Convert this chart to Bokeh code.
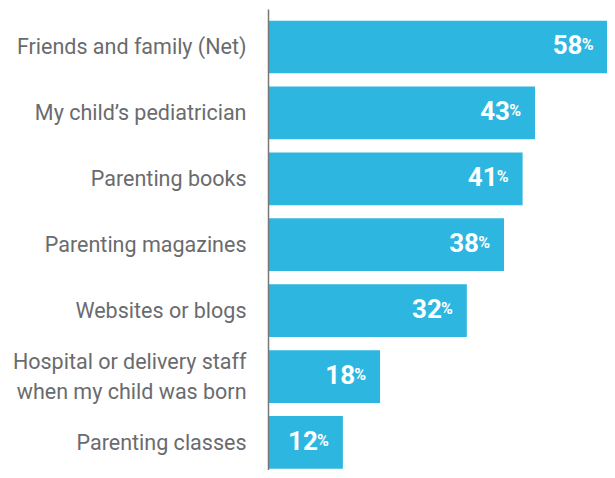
from bokeh.plotting import figure
from bokeh.models import Range1d, ColumnDataSource, FixedTicker
from bokeh.core.properties import value
from bokeh.embed import file_html
from bokeh.resources import INLINE

categories = [
    "Friends and family (Net)",
    "My child\u2019s pediatrician",
    "Parenting books",
    "Parenting magazines",
    "Websites or blogs",
    "Hospital or delivery staff\nwhen my child was born",
    "Parenting classes",
]
values = [58, 43, 41, 38, 32, 18, 12]

n = len(categories)
ypos = [n - 1 - i for i in range(n)]
X_END = 54.7
label_x = [min(v, X_END) for v in values]
num_text = [str(v) for v in values]
pct_text = ["%"] * n

src = ColumnDataSource(dict(y=ypos, v=values, lx=label_x, num=num_text, pct=pct_text))

p = figure(width=607, height=470, output_backend="svg", toolbar_location=None,
           x_range=Range1d(0, X_END), y_range=Range1d(-0.426, 6.569),
           min_border_left=268, min_border_right=0, min_border_top=9, min_border_bottom=0)

p.hbar(y="y", right="v", left=0, height=0.80, source=src, color="#2db6e0", line_color=None)

p.text(x="lx", y="y", text="pct", source=src, x_offset=-14, y_offset=-2,
       text_align="right", text_baseline="alphabetic", text_color="white",
       text_font=value("Roboto"), text_font_style="bold", text_font_size="16px")
p.text(x="lx", y="y", text="num", source=src, x_offset=-25, y_offset=-2,
       text_align="right", text_baseline="alphabetic", text_color="white",
       text_font=value("Roboto"), text_font_style="bold", text_font_size="26px")

p.xaxis.visible = False
p.xgrid.visible = False
p.ygrid.visible = False
p.outline_line_color = None

ax = p.yaxis[0]
ax.ticker = FixedTicker(ticks=ypos)
ax.major_label_overrides = {y: c for y, c in zip(ypos, categories)}
ax.major_tick_line_color = None
ax.minor_tick_line_color = None
ax.major_label_standoff = 16
ax.major_label_text_font = "Roboto"
ax.major_label_text_font_size = "21.5px"
ax.major_label_text_color = "#6a6b6e"
ax.axis_line_color = "#777777"
ax.axis_line_width = 1.5

open("out.html", "w").write(file_html(p, INLINE))
